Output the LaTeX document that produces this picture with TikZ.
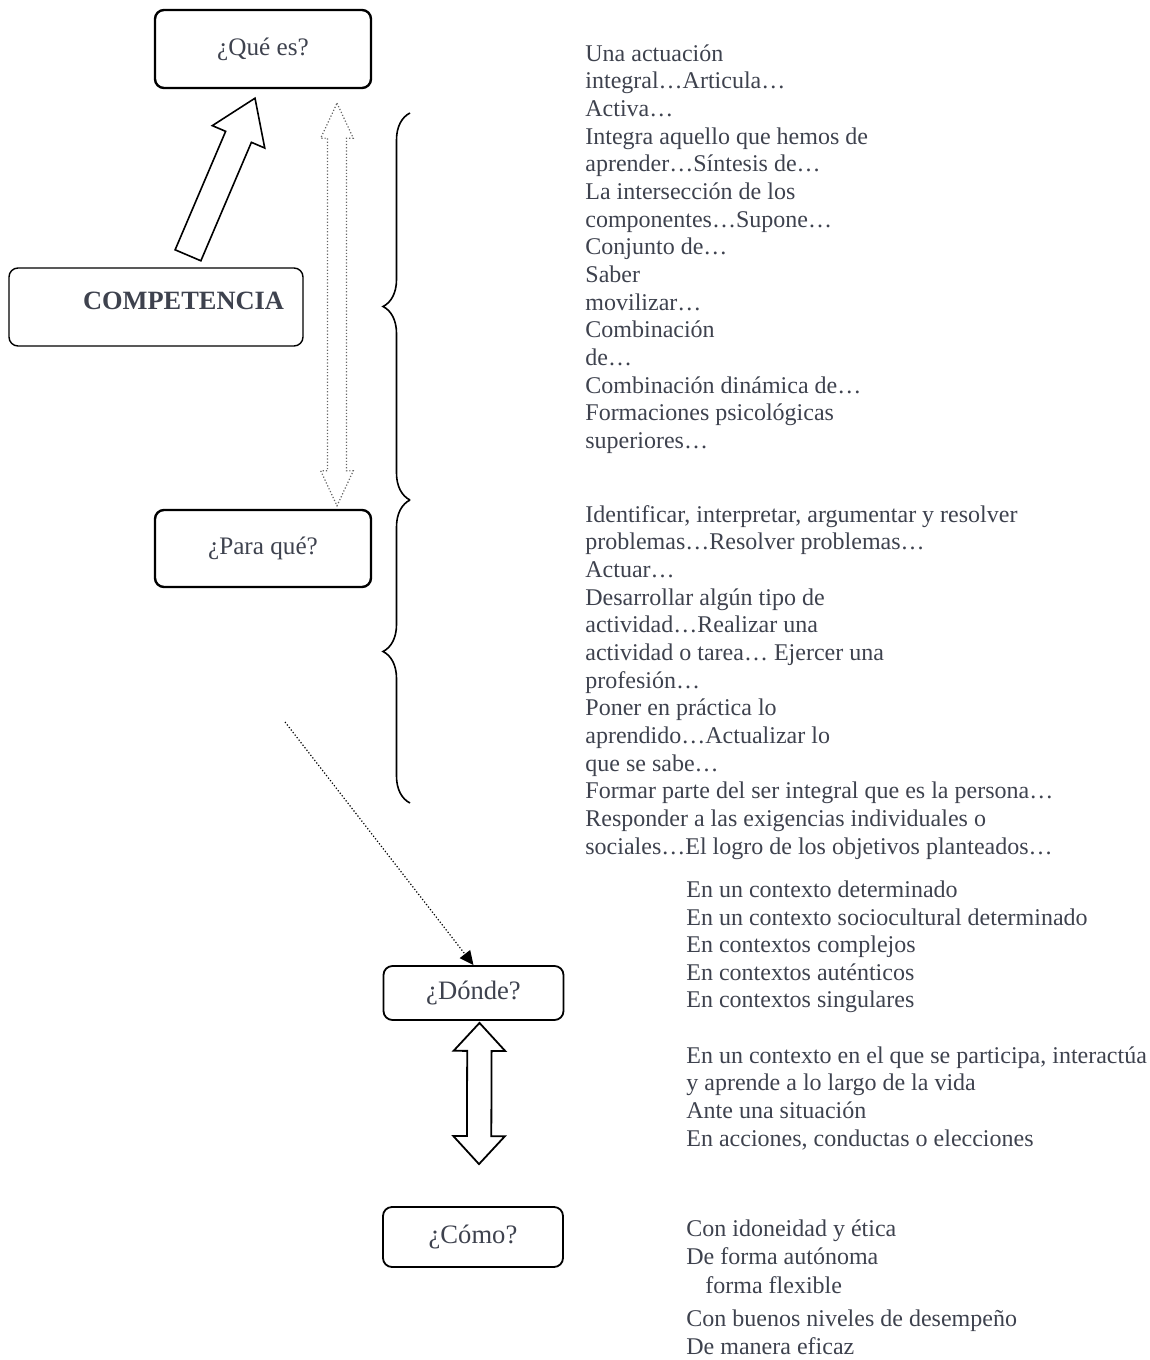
\documentclass[tikz,border=0pt]{standalone}
\usepackage{fontspec}
\setmainfont{Liberation Serif}
\usetikzlibrary{arrows.meta, positioning, calc, decorations.pathreplacing}
\definecolor{txtgray}{RGB}{62,66,78}

% outlined block arrows: style, from, to, half shaft, half head, head length
\newcommand{\fatarrow}[6]{%
  \draw[#1] ($(#2)!#4!90:(#3)$)
    -- ($(#3)!#6!(#2)!#4!-90:(#2)$)
    -- ($(#3)!#6!(#2)!#5!-90:(#2)$)
    -- (#3)
    -- ($(#3)!#6!(#2)!#5!90:(#2)$)
    -- ($(#3)!#6!(#2)!#4!90:(#2)$)
    -- ($(#2)!#4!-90:(#3)$) -- cycle;}
\newcommand{\fatdarrow}[6]{%
  \draw[#1] (#2)
    -- ($(#2)!#6!(#3)!#5!90:(#3)$)
    -- ($(#2)!#6!(#3)!#4!90:(#3)$)
    -- ($(#3)!#6!(#2)!#4!-90:(#2)$)
    -- ($(#3)!#6!(#2)!#5!-90:(#2)$)
    -- (#3)
    -- ($(#3)!#6!(#2)!#5!90:(#2)$)
    -- ($(#3)!#6!(#2)!#4!90:(#2)$)
    -- ($(#2)!#6!(#3)!#4!-90:(#3)$)
    -- ($(#2)!#6!(#3)!#5!-90:(#3)$)
    -- cycle;}

\begin{document}
\begin{tikzpicture}[
    x=0.5pt, y=-0.5pt,
    every node/.style={font=\fontsize{12}{13.82}\selectfont, text=txtgray},
    question/.style={
        rectangle,
        rounded corners=4.5pt,
        minimum width=108pt,
        minimum height=39pt,
        text centered,
        draw=black,
        line width=1.2pt,
        font=\fontsize{12.6}{14}\selectfont
    },
    smallq/.style={
        question,
        minimum width=90pt,
        minimum height=27pt,
        line width=0.9pt,
        font=\fontsize{13.3}{15}\selectfont
    },
    notes/.style={
        anchor=north west,
        align=left,
        inner sep=0pt
    },
    blockarrow/.style={
        draw=black,
        fill=white,
        line width=0.8pt,
        line join=miter
    },
    ghostarrow/.style={
        draw=black!60,
        densely dotted,
        line width=0.6pt
    },
    hintarrow/.style={
        densely dotted,
        line width=0.6pt,
        -{Triangle[length=7pt,width=6.5pt]}
    },
    curly/.style={
        decorate,
        decoration={brace, amplitude=13.5pt},
        line width=0.8pt
    }
]
\useasboundingbox (0,0) rectangle (1150,1360);

% Boxes
\node (que) [question] at (263,49) {¿Qué es?};
\node (comp) [question, line width=0.7pt, minimum width=147pt,
    text width=128pt, align=right, inner xsep=9.5pt, text depth=6pt,
    font=\fontsize{13.2}{15}\selectfont\bfseries] at (156,307) {COMPETENCIA};
\node (para) [question, minimum height=38.5pt] at (263,548.5) {¿Para qué?};
\node (donde) [smallq] at (473.5,993) {¿Dónde?};
\node (como) [smallq, minimum height=30pt] at (473,1237) {¿Cómo?};

% Texts
\node (what) [notes] at (585,41.6) {\strut Una actuación\\
    integral…Articula…\\
    Activa…\\
    Integra aquello que hemos de\\
    aprender…Síntesis de…\\
    La intersección de los\\
    componentes…Supone…\\
    Conjunto de…\\
    Saber\\
    movilizar…\\
    Combinación\\
    de…\\
    Combinación dinámica de…\\
    Formaciones psicológicas\\
    superiores…};
\node (why) [notes] at (585,502.6) {\strut Identificar, interpretar, argumentar y resolver\\
    problemas…Resolver problemas…\\
    Actuar…\\
    Desarrollar algún tipo de\\
    actividad…Realizar una\\
    actividad o tarea… Ejercer una\\
    profesión…\\
    Poner en práctica lo\\
    aprendido…Actualizar lo\\
    que se sabe…\\
    Formar parte del ser integral que es la persona…\\
    Responder a las exigencias individuales o\\
    sociales…El logro de los objetivos planteados…};
\node (where) [notes] at (686,877.6) {\strut En un contexto determinado\\
    En un contexto sociocultural determinado\\
    En contextos complejos\\
    En contextos auténticos\\
    En contextos singulares\\[13.82pt]
    En un contexto en el que se participa, interactúa\\
    y aprende a lo largo de la vida\\
    Ante una situación\\
    En acciones, conductas o elecciones};
\node (how) [notes] at (686,1217) {\strut Con idoneidad y ética\\[0.2pt]
    De forma autónoma\\[0.7pt]
    \hspace*{9.5pt}forma flexible\\[2.7pt]
    Con buenos niveles de desempeño\\
    De manera eficaz};

% Anchor points for the arrows and braces
\coordinate (up0) at ($(comp.north)+(32,-12)$);
\coordinate (up1) at ($(que.south)+(-8,9)$);
\coordinate (dd0) at ($(que.south)+(74,14)$);
\coordinate (dd1) at ($(para.north)+(74,-3)$);
\coordinate (dc0) at ($(donde.south)+(6,2)$);
\coordinate (dc1) at ($(como.north)+(6,-42)$);
\coordinate (hint) at (285,722);
\coordinate (br0) at (410,113);
\coordinate (br1) at (410,500);
\coordinate (br2) at (410,803);

% Arrows
\fatarrow{blockarrow}{up0}{up1}{7pt}{14.25pt}{21pt}
\fatdarrow{ghostarrow}{dd0}{dd1}{4.75pt}{8.15pt}{17.5pt}
\fatdarrow{blockarrow, line width=0.9pt}{dc0}{dc1}{6.1pt}{12.9pt}{14pt}
\draw [hintarrow] (hint) -- (donde.north);

% Braces
\draw [curly] (br1) -- (br0);
\draw [curly] (br2) -- (br1);

\end{tikzpicture}
\end{document}
